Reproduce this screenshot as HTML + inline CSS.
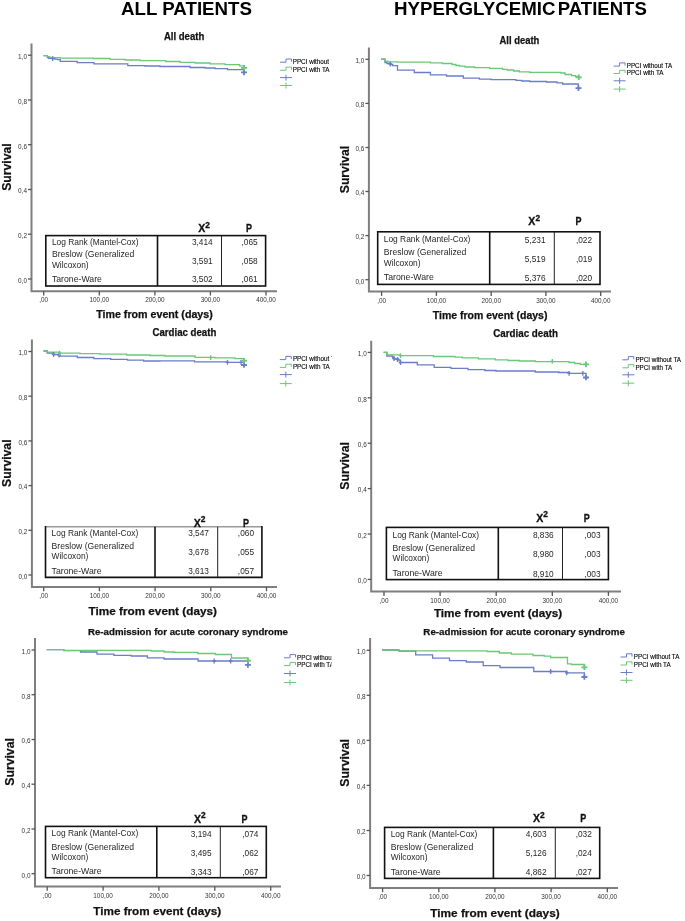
<!DOCTYPE html>
<html><head><meta charset="utf-8"><title>Kaplan-Meier survival curves</title>
<style>
html,body{margin:0;padding:0;background:#fff;}
body{width:685px;height:921px;overflow:hidden;position:relative;}
svg{position:absolute;left:0;top:0;filter:blur(0.35px);}
text{font-family:"Liberation Sans", sans-serif;}
</style></head><body>
<svg width="685" height="921" viewBox="0 0 685 921">
<defs>
<clipPath id="lc0"><rect x="0" y="0" width="331.0" height="921"/></clipPath>
<clipPath id="lc1"><rect x="0" y="0" width="331.9" height="921"/></clipPath>
<clipPath id="lc2"><rect x="0" y="0" width="331.5" height="921"/></clipPath>
<clipPath id="lc3"><rect x="0" y="0" width="685.0" height="921"/></clipPath>
<clipPath id="lc4"><rect x="0" y="0" width="685.0" height="921"/></clipPath>
<clipPath id="lc5"><rect x="0" y="0" width="685.0" height="921"/></clipPath>
</defs>
<text x="186.5" y="15" font-size="18" font-weight="bold" text-anchor="middle" fill="#000" textLength="131" lengthAdjust="spacingAndGlyphs">ALL PATIENTS</text>
<text x="394.0" y="15.3" font-size="18" font-weight="bold" fill="#000" textLength="161.5" lengthAdjust="spacingAndGlyphs">HYPERGLYCEMIC</text>
<text x="557.8" y="15.3" font-size="18" font-weight="bold" fill="#000" textLength="89" lengthAdjust="spacingAndGlyphs">PATIENTS</text>
<g>
<text x="184.1" y="40.2" font-size="10.0" font-weight="bold" text-anchor="middle" fill="#111" stroke="#111" stroke-width="0.25" textLength="40.4" lengthAdjust="spacingAndGlyphs">All death</text>
<path d="M31.5 43.5 V291.2 H277.0" stroke="#7f7f7f" stroke-width="2" fill="none"/>
<path d="M28.0 279.0 H31.5" stroke="#555" stroke-width="1.3"/>
<text x="27.0" y="282.8" font-size="6.4" text-anchor="end" fill="#333">0,0</text>
<path d="M28.0 234.2 H31.5" stroke="#555" stroke-width="1.3"/>
<text x="27.0" y="238.0" font-size="6.4" text-anchor="end" fill="#333">0,2</text>
<path d="M28.0 189.5 H31.5" stroke="#555" stroke-width="1.3"/>
<text x="27.0" y="193.3" font-size="6.4" text-anchor="end" fill="#333">0,4</text>
<path d="M28.0 144.7 H31.5" stroke="#555" stroke-width="1.3"/>
<text x="27.0" y="148.5" font-size="6.4" text-anchor="end" fill="#333">0,6</text>
<path d="M28.0 100.0 H31.5" stroke="#555" stroke-width="1.3"/>
<text x="27.0" y="103.8" font-size="6.4" text-anchor="end" fill="#333">0,8</text>
<path d="M28.0 55.2 H31.5" stroke="#555" stroke-width="1.3"/>
<text x="27.0" y="59.0" font-size="6.4" text-anchor="end" fill="#333">1,0</text>
<path d="M43.7 291.2 V295.5" stroke="#555" stroke-width="1.3"/>
<text x="43.7" y="302.2" font-size="6.4" text-anchor="middle" fill="#333">,00</text>
<path d="M99.3 291.2 V295.5" stroke="#555" stroke-width="1.3"/>
<text x="99.3" y="302.2" font-size="6.4" text-anchor="middle" fill="#333">100,00</text>
<path d="M154.9 291.2 V295.5" stroke="#555" stroke-width="1.3"/>
<text x="154.9" y="302.2" font-size="6.4" text-anchor="middle" fill="#333">200,00</text>
<path d="M210.4 291.2 V295.5" stroke="#555" stroke-width="1.3"/>
<text x="210.4" y="302.2" font-size="6.4" text-anchor="middle" fill="#333">300,00</text>
<path d="M266.0 291.2 V295.5" stroke="#555" stroke-width="1.3"/>
<text x="266.0" y="302.2" font-size="6.4" text-anchor="middle" fill="#333">400,00</text>
<text x="96.2" y="317.5" font-size="10.6" font-weight="bold" fill="#111" stroke="#111" stroke-width="0.25" textLength="116.6" lengthAdjust="spacingAndGlyphs">Time from event (days)</text>
<text transform="translate(11.2 167.1) rotate(-90)" x="0" y="0" font-size="12" font-weight="bold" text-anchor="middle" fill="#111" stroke="#111" stroke-width="0.2" textLength="47.5" lengthAdjust="spacingAndGlyphs">Survival</text>
<path d="M43.5 55.7 H47.4 V57.7 H48.8 V58.4 H54.9 V59.2 H57.5 V59.6 H60.3 V61.4 H77.2 V62.7 H93.9 V63.8 H127.8 V65.6 H145.0 V66.0 H160.0 V66.5 H190.0 V67.5 H205.0 V68.0 H215.0 V68.6 H227.5 V69.6 H244.0 V69.6 H244.0 V72.4" stroke="#6a7cca" stroke-width="1.3" fill="none"/>
<path d="M43.5 55.7 H47.4 V56.6 H49.6 V57.3 H53.1 V57.6 H60.1 V58.1 H93.4 V58.5 H110.0 V59.3 H125.0 V60.0 H140.0 V60.6 H165.7 V61.5 H180.0 V62.3 H195.0 V63.0 H210.0 V63.8 H225.0 V64.7 H239.6 V65.9 H244.0 V66.7 H244.0 V67.8" stroke="#6ac876" stroke-width="1.3" fill="none"/>
<path d="M50.9 58.6 H54.5 M52.7 56.2 V61.0" stroke="#6a7cca" stroke-width="1.30" fill="none"/>
<path d="M241.0 72.4 H247.0 M244.0 69.6 V75.2" stroke="#6a7cca" stroke-width="1.80" fill="none"/>
<path d="M241.0 67.8 H247.0 M244.0 65.0 V70.6" stroke="#6ac876" stroke-width="1.80" fill="none"/>
<path d="M280.0 62.2 H286.0 V59.0 H291.5 V61.7" stroke="#6a7cca" stroke-width="1" fill="none"/>
<text x="292.7" y="64.0" font-size="6.3" fill="#000" stroke="#000" stroke-width="0.12" clip-path="url(#lc0)">PPCI without TA</text>
<path d="M280.0 70.3 H286.0 V67.1 H291.5 V69.8" stroke="#6ac876" stroke-width="1" fill="none"/>
<text x="292.7" y="72.0" font-size="6.3" fill="#000" stroke="#000" stroke-width="0.12" clip-path="url(#lc0)">PPCI with TA</text>
<path d="M280.0 77.6 H292.0 M286.0 74.6 V80.6" stroke="#6a7cca" stroke-width="1" fill="none"/>
<path d="M280.0 85.5 H292.0 M286.0 82.5 V88.5" stroke="#6ac876" stroke-width="1" fill="none"/>
<rect x="45.8" y="235.6" width="219.8" height="50.4" fill="none" stroke="#111" stroke-width="1.6"/>
<path d="M157.5 235.6 V286.0" stroke="#111" stroke-width="1.6"/>
<path d="M221.5 235.6 V286.0" stroke="#222" stroke-width="1"/>
<text x="51.9" y="245.1" font-size="8.4" fill="#262626">Log Rank (Mantel-Cox)</text>
<text x="51.9" y="257.3" font-size="8.4" fill="#262626" textLength="82.5" lengthAdjust="spacingAndGlyphs">Breslow (Generalized</text>
<text x="51.9" y="267.9" font-size="8.4" fill="#262626">Wilcoxon)</text>
<text x="51.9" y="281.9" font-size="8.4" fill="#262626" textLength="50.0" lengthAdjust="spacingAndGlyphs">Tarone-Ware</text>
<text x="212.7" y="245.4" font-size="8.3" text-anchor="end" fill="#262626">3,414</text>
<text x="257.7" y="245.4" font-size="8.3" text-anchor="end" fill="#262626">,065</text>
<text x="212.7" y="264.3" font-size="8.3" text-anchor="end" fill="#262626">3,591</text>
<text x="257.7" y="264.3" font-size="8.3" text-anchor="end" fill="#262626">,058</text>
<text x="212.7" y="282.4" font-size="8.3" text-anchor="end" fill="#262626">3,502</text>
<text x="257.7" y="282.4" font-size="8.3" text-anchor="end" fill="#262626">,061</text>
<text x="204.0" y="231.8" font-size="10.6" font-weight="bold" text-anchor="middle" fill="#111" stroke="#111" stroke-width="0.3">X<tspan font-size="8.4" dy="-4.2">2</tspan></text>
<text x="249.0" y="231.8" font-size="10.6" font-weight="bold" text-anchor="middle" fill="#111" stroke="#111" stroke-width="0.3" textLength="6" lengthAdjust="spacingAndGlyphs">P</text>
</g>
<g>
<text x="184.4" y="335.9" font-size="10.0" font-weight="bold" text-anchor="middle" fill="#111" stroke="#111" stroke-width="0.25" textLength="63.8" lengthAdjust="spacingAndGlyphs">Cardiac death</text>
<path d="M31.9 339.4 V586.9 H277.0" stroke="#7f7f7f" stroke-width="2" fill="none"/>
<path d="M28.4 575.0 H31.9" stroke="#555" stroke-width="1.3"/>
<text x="27.4" y="578.8" font-size="6.4" text-anchor="end" fill="#333">0,0</text>
<path d="M28.4 530.3 H31.9" stroke="#555" stroke-width="1.3"/>
<text x="27.4" y="534.1" font-size="6.4" text-anchor="end" fill="#333">0,2</text>
<path d="M28.4 485.6 H31.9" stroke="#555" stroke-width="1.3"/>
<text x="27.4" y="489.4" font-size="6.4" text-anchor="end" fill="#333">0,4</text>
<path d="M28.4 440.9 H31.9" stroke="#555" stroke-width="1.3"/>
<text x="27.4" y="444.7" font-size="6.4" text-anchor="end" fill="#333">0,6</text>
<path d="M28.4 396.2 H31.9" stroke="#555" stroke-width="1.3"/>
<text x="27.4" y="400.0" font-size="6.4" text-anchor="end" fill="#333">0,8</text>
<path d="M28.4 351.5 H31.9" stroke="#555" stroke-width="1.3"/>
<text x="27.4" y="355.3" font-size="6.4" text-anchor="end" fill="#333">1,0</text>
<path d="M43.7 586.9 V591.2" stroke="#555" stroke-width="1.3"/>
<text x="43.7" y="597.9" font-size="6.4" text-anchor="middle" fill="#333">,00</text>
<path d="M99.4 586.9 V591.2" stroke="#555" stroke-width="1.3"/>
<text x="99.4" y="597.9" font-size="6.4" text-anchor="middle" fill="#333">100,00</text>
<path d="M155.1 586.9 V591.2" stroke="#555" stroke-width="1.3"/>
<text x="155.1" y="597.9" font-size="6.4" text-anchor="middle" fill="#333">200,00</text>
<path d="M210.8 586.9 V591.2" stroke="#555" stroke-width="1.3"/>
<text x="210.8" y="597.9" font-size="6.4" text-anchor="middle" fill="#333">300,00</text>
<path d="M266.5 586.9 V591.2" stroke="#555" stroke-width="1.3"/>
<text x="266.5" y="597.9" font-size="6.4" text-anchor="middle" fill="#333">400,00</text>
<text x="88.5" y="615.1" font-size="11.8" font-weight="bold" fill="#111" stroke="#111" stroke-width="0.25" textLength="128.4" lengthAdjust="spacingAndGlyphs">Time from event (days)</text>
<text transform="translate(10.8 463.2) rotate(-90)" x="0" y="0" font-size="12" font-weight="bold" text-anchor="middle" fill="#111" stroke="#111" stroke-width="0.2" textLength="47.5" lengthAdjust="spacingAndGlyphs">Survival</text>
<path d="M43.5 351.0 H47.2 V353.0 H53.6 V354.5 H59.6 V356.2 H77.3 V357.5 H93.8 V358.6 H110.7 V359.4 H127.5 V360.2 H143.6 V361.0 H160.0 V360.9 H194.6 V361.8 H227.5 V362.4 H244.0 V362.4 H244.0 V365.0" stroke="#6a7cca" stroke-width="1.3" fill="none"/>
<path d="M43.5 351.0 H47.2 V352.2 H59.6 V353.1 H80.0 V353.6 H100.0 V354.2 H126.7 V355.0 H150.0 V355.5 H165.0 V356.0 H195.0 V357.3 H215.0 V357.8 H235.0 V358.6 H244.0 V359.6 H244.0 V360.7" stroke="#6ac876" stroke-width="1.3" fill="none"/>
<path d="M51.8 354.5 H55.4 M53.6 352.1 V356.9" stroke="#6a7cca" stroke-width="1.30" fill="none"/>
<path d="M57.2 355.2 H60.8 M59.0 352.8 V357.6" stroke="#6a7cca" stroke-width="1.30" fill="none"/>
<path d="M225.7 362.4 H229.3 M227.5 360.0 V364.8" stroke="#6a7cca" stroke-width="1.30" fill="none"/>
<path d="M239.2 362.4 H242.8 M241.0 360.0 V364.8" stroke="#6a7cca" stroke-width="1.30" fill="none"/>
<path d="M241.0 365.0 H247.0 M244.0 362.2 V367.8" stroke="#6a7cca" stroke-width="1.80" fill="none"/>
<path d="M57.8 353.1 H61.4 M59.6 350.7 V355.5" stroke="#6ac876" stroke-width="1.30" fill="none"/>
<path d="M208.9 357.6 H212.5 M210.7 355.2 V360.0" stroke="#6ac876" stroke-width="1.30" fill="none"/>
<path d="M241.0 360.7 H247.0 M244.0 357.9 V363.5" stroke="#6ac876" stroke-width="1.80" fill="none"/>
<path d="M279.8 359.6 H285.8 V356.4 H291.3 V359.1" stroke="#6a7cca" stroke-width="1" fill="none"/>
<text x="292.9" y="361.3" font-size="6.3" fill="#000" stroke="#000" stroke-width="0.12" clip-path="url(#lc1)">PPCI without TA</text>
<path d="M279.8 367.4 H285.8 V364.2 H291.3 V366.9" stroke="#6ac876" stroke-width="1" fill="none"/>
<text x="292.9" y="369.1" font-size="6.3" fill="#000" stroke="#000" stroke-width="0.12" clip-path="url(#lc1)">PPCI with TA</text>
<path d="M279.8 374.6 H291.8 M285.8 371.6 V377.6" stroke="#6a7cca" stroke-width="1" fill="none"/>
<path d="M279.8 383.6 H291.8 M285.8 380.6 V386.6" stroke="#6ac876" stroke-width="1" fill="none"/>
<path d="M45.5 526.8 H261.9" stroke="#999" stroke-width="1.4"/>
<path d="M45.5 526.1 V577.4 H261.9 V526.1" fill="none" stroke="#111" stroke-width="1.6"/>
<path d="M155.0 526.8 V577.4" stroke="#111" stroke-width="1.6"/>
<path d="M217.7 526.8 V577.4" stroke="#222" stroke-width="1"/>
<text x="51.6" y="535.8" font-size="8.4" fill="#262626">Log Rank (Mantel-Cox)</text>
<text x="51.6" y="549.1" font-size="8.4" fill="#262626" textLength="82.5" lengthAdjust="spacingAndGlyphs">Breslow (Generalized</text>
<text x="51.6" y="559.4" font-size="8.4" fill="#262626">Wilcoxon)</text>
<text x="51.6" y="573.6" font-size="8.4" fill="#262626" textLength="50.0" lengthAdjust="spacingAndGlyphs">Tarone-Ware</text>
<text x="208.9" y="536.1" font-size="8.3" text-anchor="end" fill="#262626">3,547</text>
<text x="254.0" y="536.1" font-size="8.3" text-anchor="end" fill="#262626">,060</text>
<text x="208.9" y="555.1" font-size="8.3" text-anchor="end" fill="#262626">3,678</text>
<text x="254.0" y="555.1" font-size="8.3" text-anchor="end" fill="#262626">,055</text>
<text x="208.9" y="574.1" font-size="8.3" text-anchor="end" fill="#262626">3,613</text>
<text x="254.0" y="574.1" font-size="8.3" text-anchor="end" fill="#262626">,057</text>
<text x="199.5" y="526.5" font-size="10.6" font-weight="bold" text-anchor="middle" fill="#111" stroke="#111" stroke-width="0.3">X<tspan font-size="8.4" dy="-4.2">2</tspan></text>
<text x="246.0" y="526.5" font-size="10.6" font-weight="bold" text-anchor="middle" fill="#111" stroke="#111" stroke-width="0.3" textLength="6" lengthAdjust="spacingAndGlyphs">P</text>
</g>
<g>
<text x="188.0" y="634.8" font-size="9.6" font-weight="bold" text-anchor="middle" fill="#111" stroke="#111" stroke-width="0.25" textLength="200.0" lengthAdjust="spacingAndGlyphs">Re-admission for acute coronary syndrome</text>
<path d="M35.0 638.0 V886.5 H281.0" stroke="#7f7f7f" stroke-width="2" fill="none"/>
<path d="M31.5 873.7 H35.0" stroke="#555" stroke-width="1.3"/>
<text x="30.5" y="877.5" font-size="6.4" text-anchor="end" fill="#333">0,0</text>
<path d="M31.5 829.0 H35.0" stroke="#555" stroke-width="1.3"/>
<text x="30.5" y="832.8" font-size="6.4" text-anchor="end" fill="#333">0,2</text>
<path d="M31.5 784.2 H35.0" stroke="#555" stroke-width="1.3"/>
<text x="30.5" y="788.0" font-size="6.4" text-anchor="end" fill="#333">0,4</text>
<path d="M31.5 739.5 H35.0" stroke="#555" stroke-width="1.3"/>
<text x="30.5" y="743.3" font-size="6.4" text-anchor="end" fill="#333">0,6</text>
<path d="M31.5 694.7 H35.0" stroke="#555" stroke-width="1.3"/>
<text x="30.5" y="698.5" font-size="6.4" text-anchor="end" fill="#333">0,8</text>
<path d="M31.5 650.0 H35.0" stroke="#555" stroke-width="1.3"/>
<text x="30.5" y="653.8" font-size="6.4" text-anchor="end" fill="#333">1,0</text>
<path d="M47.2 886.5 V890.8" stroke="#555" stroke-width="1.3"/>
<text x="47.2" y="897.5" font-size="6.4" text-anchor="middle" fill="#333">,00</text>
<path d="M103.1 886.5 V890.8" stroke="#555" stroke-width="1.3"/>
<text x="103.1" y="897.5" font-size="6.4" text-anchor="middle" fill="#333">100,00</text>
<path d="M158.9 886.5 V890.8" stroke="#555" stroke-width="1.3"/>
<text x="158.9" y="897.5" font-size="6.4" text-anchor="middle" fill="#333">200,00</text>
<path d="M214.8 886.5 V890.8" stroke="#555" stroke-width="1.3"/>
<text x="214.8" y="897.5" font-size="6.4" text-anchor="middle" fill="#333">300,00</text>
<path d="M270.7 886.5 V890.8" stroke="#555" stroke-width="1.3"/>
<text x="270.7" y="897.5" font-size="6.4" text-anchor="middle" fill="#333">400,00</text>
<text x="93.3" y="915.1" font-size="11.8" font-weight="bold" fill="#111" stroke="#111" stroke-width="0.25" textLength="127.9" lengthAdjust="spacingAndGlyphs">Time from event (days)</text>
<text transform="translate(13.8 761.9) rotate(-90)" x="0" y="0" font-size="12" font-weight="bold" text-anchor="middle" fill="#111" stroke="#111" stroke-width="0.2" textLength="47.5" lengthAdjust="spacingAndGlyphs">Survival</text>
<path d="M46.7 649.6 H63.8 V650.7 H80.5 V652.0 H97.0 V654.1 H113.9 V655.3 H131.2 V656.0 H147.4 V657.8 H164.1 V659.0 H198.1 V661.0 H247.9 V661.0 H247.9 V664.9" stroke="#6a7cca" stroke-width="1.3" fill="none"/>
<path d="M46.7 649.6 H63.8 V650.4 H151.2 V651.0 H164.1 V652.0 H174.5 V652.3 H197.8 V653.5 H215.5 V654.5 H231.5 V658.0 H247.9 V658.0 H247.9 V660.6" stroke="#6ac876" stroke-width="1.3" fill="none"/>
<path d="M212.4 661.0 H216.0 M214.2 658.6 V663.4" stroke="#6a7cca" stroke-width="1.30" fill="none"/>
<path d="M228.9 661.0 H232.5 M230.7 658.6 V663.4" stroke="#6a7cca" stroke-width="1.30" fill="none"/>
<path d="M244.9 664.9 H250.9 M247.9 662.1 V667.7" stroke="#6a7cca" stroke-width="1.80" fill="none"/>
<path d="M244.9 660.6 H250.9 M247.9 657.8 V663.4" stroke="#6ac876" stroke-width="1.80" fill="none"/>
<path d="M284.0 657.8 H290.0 V654.6 H295.5 V657.3" stroke="#6a7cca" stroke-width="1" fill="none"/>
<text x="297.0" y="659.6" font-size="6.3" fill="#000" stroke="#000" stroke-width="0.12" clip-path="url(#lc2)">PPCI without TA</text>
<path d="M284.0 665.6 H290.0 V662.4 H295.5 V665.1" stroke="#6ac876" stroke-width="1" fill="none"/>
<text x="297.0" y="667.4" font-size="6.3" fill="#000" stroke="#000" stroke-width="0.12" clip-path="url(#lc2)">PPCI with TA</text>
<path d="M284.0 673.5 H296.0 M290.0 670.5 V676.5" stroke="#6a7cca" stroke-width="1" fill="none"/>
<path d="M284.0 682.5 H296.0 M290.0 679.5 V685.5" stroke="#6ac876" stroke-width="1" fill="none"/>
<rect x="45.5" y="826.4" width="220.8" height="51.3" fill="none" stroke="#111" stroke-width="1.6"/>
<path d="M156.8 826.4 V877.7" stroke="#111" stroke-width="1.6"/>
<path d="M220.3 826.4 V877.7" stroke="#222" stroke-width="1"/>
<text x="51.6" y="836.3" font-size="8.4" fill="#262626">Log Rank (Mantel-Cox)</text>
<text x="51.6" y="849.6" font-size="8.4" fill="#262626" textLength="82.5" lengthAdjust="spacingAndGlyphs">Breslow (Generalized</text>
<text x="51.6" y="860.1" font-size="8.4" fill="#262626">Wilcoxon)</text>
<text x="51.6" y="874.1" font-size="8.4" fill="#262626" textLength="50.0" lengthAdjust="spacingAndGlyphs">Tarone-Ware</text>
<text x="211.5" y="836.6" font-size="8.3" text-anchor="end" fill="#262626">3,194</text>
<text x="258.4" y="836.6" font-size="8.3" text-anchor="end" fill="#262626">,074</text>
<text x="211.5" y="855.6" font-size="8.3" text-anchor="end" fill="#262626">3,495</text>
<text x="258.4" y="855.6" font-size="8.3" text-anchor="end" fill="#262626">,062</text>
<text x="211.5" y="874.6" font-size="8.3" text-anchor="end" fill="#262626">3,343</text>
<text x="258.4" y="874.6" font-size="8.3" text-anchor="end" fill="#262626">,067</text>
<text x="199.8" y="822.6" font-size="10.6" font-weight="bold" text-anchor="middle" fill="#111" stroke="#111" stroke-width="0.3">X<tspan font-size="8.4" dy="-4.2">2</tspan></text>
<text x="244.6" y="822.6" font-size="10.6" font-weight="bold" text-anchor="middle" fill="#111" stroke="#111" stroke-width="0.3" textLength="6" lengthAdjust="spacingAndGlyphs">P</text>
</g>
<g>
<text x="519.4" y="43.8" font-size="10.0" font-weight="bold" text-anchor="middle" fill="#111" stroke="#111" stroke-width="0.25" textLength="39.9" lengthAdjust="spacingAndGlyphs">All death</text>
<path d="M368.9 47.5 V291.6 H611.0" stroke="#7f7f7f" stroke-width="2" fill="none"/>
<path d="M365.4 279.7 H368.9" stroke="#555" stroke-width="1.3"/>
<text x="364.4" y="283.5" font-size="6.4" text-anchor="end" fill="#333">0,0</text>
<path d="M365.4 235.6 H368.9" stroke="#555" stroke-width="1.3"/>
<text x="364.4" y="239.4" font-size="6.4" text-anchor="end" fill="#333">0,2</text>
<path d="M365.4 191.5 H368.9" stroke="#555" stroke-width="1.3"/>
<text x="364.4" y="195.3" font-size="6.4" text-anchor="end" fill="#333">0,4</text>
<path d="M365.4 147.5 H368.9" stroke="#555" stroke-width="1.3"/>
<text x="364.4" y="151.3" font-size="6.4" text-anchor="end" fill="#333">0,6</text>
<path d="M365.4 103.4 H368.9" stroke="#555" stroke-width="1.3"/>
<text x="364.4" y="107.2" font-size="6.4" text-anchor="end" fill="#333">0,8</text>
<path d="M365.4 59.3 H368.9" stroke="#555" stroke-width="1.3"/>
<text x="364.4" y="63.1" font-size="6.4" text-anchor="end" fill="#333">1,0</text>
<path d="M381.6 291.6 V295.9" stroke="#555" stroke-width="1.3"/>
<text x="381.6" y="302.6" font-size="6.4" text-anchor="middle" fill="#333">,00</text>
<path d="M436.4 291.6 V295.9" stroke="#555" stroke-width="1.3"/>
<text x="436.4" y="302.6" font-size="6.4" text-anchor="middle" fill="#333">100,00</text>
<path d="M491.2 291.6 V295.9" stroke="#555" stroke-width="1.3"/>
<text x="491.2" y="302.6" font-size="6.4" text-anchor="middle" fill="#333">200,00</text>
<path d="M545.9 291.6 V295.9" stroke="#555" stroke-width="1.3"/>
<text x="545.9" y="302.6" font-size="6.4" text-anchor="middle" fill="#333">300,00</text>
<path d="M600.7 291.6 V295.9" stroke="#555" stroke-width="1.3"/>
<text x="600.7" y="302.6" font-size="6.4" text-anchor="middle" fill="#333">400,00</text>
<text x="432.8" y="319.3" font-size="10.6" font-weight="bold" fill="#111" stroke="#111" stroke-width="0.25" textLength="114.6" lengthAdjust="spacingAndGlyphs">Time from event (days)</text>
<text transform="translate(348.5 169.5) rotate(-90)" x="0" y="0" font-size="12" font-weight="bold" text-anchor="middle" fill="#111" stroke="#111" stroke-width="0.2" textLength="47.5" lengthAdjust="spacingAndGlyphs">Survival</text>
<path d="M381.1 59.2 H385.0 V62.5 H387.0 V63.5 H390.3 V64.5 H392.7 V65.7 H397.5 V70.1 H414.3 V72.5 H430.4 V74.9 H446.5 V76.0 H463.3 V78.1 H479.4 V79.2 H491.2 V79.6 H516.0 V80.3 H521.8 V81.0 H529.8 V81.5 H546.6 V82.0 H557.0 V82.8 H562.7 V84.0 H578.3 V88.0" stroke="#6a7cca" stroke-width="1.3" fill="none"/>
<path d="M381.1 59.2 H385.0 V61.2 H387.8 V61.8 H397.5 V62.1 H430.4 V62.8 H442.4 V63.5 H452.0 V64.5 H456.0 V65.5 H459.3 V66.1 H465.0 V67.0 H474.6 V67.7 H489.6 V68.3 H502.5 V69.3 H507.3 V70.0 H513.7 V71.0 H519.3 V71.8 H529.8 V72.4 H561.0 V73.0 H565.0 V74.5 H571.5 V75.6 H575.5 V76.5 H578.8 V77.0" stroke="#6ac876" stroke-width="1.3" fill="none"/>
<path d="M388.5 64.0 H392.1 M390.3 61.6 V66.4" stroke="#6a7cca" stroke-width="1.30" fill="none"/>
<path d="M575.5 88.2 H581.5 M578.5 85.4 V91.0" stroke="#6a7cca" stroke-width="1.80" fill="none"/>
<path d="M575.8 77.3 H581.8 M578.8 74.5 V80.1" stroke="#6ac876" stroke-width="1.80" fill="none"/>
<path d="M613.6 66.1 H619.6 V62.9 H625.1 V65.6" stroke="#6a7cca" stroke-width="1" fill="none"/>
<text x="626.7" y="67.9" font-size="6.3" fill="#000" stroke="#000" stroke-width="0.12" clip-path="url(#lc3)">PPCI without TA</text>
<path d="M613.6 73.5 H619.6 V70.3 H625.1 V73.0" stroke="#6ac876" stroke-width="1" fill="none"/>
<text x="626.7" y="75.2" font-size="6.3" fill="#000" stroke="#000" stroke-width="0.12" clip-path="url(#lc3)">PPCI with TA</text>
<path d="M613.6 80.8 H625.6 M619.6 77.8 V83.8" stroke="#6a7cca" stroke-width="1" fill="none"/>
<path d="M613.6 89.1 H625.6 M619.6 86.1 V92.1" stroke="#6ac876" stroke-width="1" fill="none"/>
<rect x="377.7" y="231.8" width="222.3" height="52.6" fill="none" stroke="#111" stroke-width="1.6"/>
<path d="M489.7 231.8 V284.4" stroke="#111" stroke-width="1.6"/>
<path d="M554.3 231.8 V284.4" stroke="#222" stroke-width="1"/>
<text x="383.8" y="242.3" font-size="8.4" fill="#262626">Log Rank (Mantel-Cox)</text>
<text x="383.8" y="255.3" font-size="8.4" fill="#262626" textLength="82.5" lengthAdjust="spacingAndGlyphs">Breslow (Generalized</text>
<text x="383.8" y="265.8" font-size="8.4" fill="#262626">Wilcoxon)</text>
<text x="383.8" y="280.3" font-size="8.4" fill="#262626" textLength="50.0" lengthAdjust="spacingAndGlyphs">Tarone-Ware</text>
<text x="545.5" y="242.6" font-size="8.3" text-anchor="end" fill="#262626">5,231</text>
<text x="592.1" y="242.6" font-size="8.3" text-anchor="end" fill="#262626">,022</text>
<text x="545.5" y="261.5" font-size="8.3" text-anchor="end" fill="#262626">5,519</text>
<text x="592.1" y="261.5" font-size="8.3" text-anchor="end" fill="#262626">,019</text>
<text x="545.5" y="280.8" font-size="8.3" text-anchor="end" fill="#262626">5,376</text>
<text x="592.1" y="280.8" font-size="8.3" text-anchor="end" fill="#262626">,020</text>
<text x="534.2" y="225.0" font-size="10.6" font-weight="bold" text-anchor="middle" fill="#111" stroke="#111" stroke-width="0.3">X<tspan font-size="8.4" dy="-4.2">2</tspan></text>
<text x="578.6" y="225.0" font-size="10.6" font-weight="bold" text-anchor="middle" fill="#111" stroke="#111" stroke-width="0.3" textLength="6" lengthAdjust="spacingAndGlyphs">P</text>
</g>
<g>
<text x="525.6" y="337.2" font-size="10.0" font-weight="bold" text-anchor="middle" fill="#111" stroke="#111" stroke-width="0.25" textLength="64.7" lengthAdjust="spacingAndGlyphs">Cardiac death</text>
<path d="M371.2 340.7 V591.6 H621.0" stroke="#7f7f7f" stroke-width="2" fill="none"/>
<path d="M367.7 579.4 H371.2" stroke="#555" stroke-width="1.3"/>
<text x="366.7" y="583.2" font-size="6.4" text-anchor="end" fill="#333">0,0</text>
<path d="M367.7 534.0 H371.2" stroke="#555" stroke-width="1.3"/>
<text x="366.7" y="537.8" font-size="6.4" text-anchor="end" fill="#333">0,2</text>
<path d="M367.7 488.6 H371.2" stroke="#555" stroke-width="1.3"/>
<text x="366.7" y="492.4" font-size="6.4" text-anchor="end" fill="#333">0,4</text>
<path d="M367.7 443.2 H371.2" stroke="#555" stroke-width="1.3"/>
<text x="366.7" y="447.0" font-size="6.4" text-anchor="end" fill="#333">0,6</text>
<path d="M367.7 397.8 H371.2" stroke="#555" stroke-width="1.3"/>
<text x="366.7" y="401.6" font-size="6.4" text-anchor="end" fill="#333">0,8</text>
<path d="M367.7 352.4 H371.2" stroke="#555" stroke-width="1.3"/>
<text x="366.7" y="356.2" font-size="6.4" text-anchor="end" fill="#333">1,0</text>
<path d="M384.0 591.6 V595.9" stroke="#555" stroke-width="1.3"/>
<text x="384.0" y="602.6" font-size="6.4" text-anchor="middle" fill="#333">,00</text>
<path d="M440.1 591.6 V595.9" stroke="#555" stroke-width="1.3"/>
<text x="440.1" y="602.6" font-size="6.4" text-anchor="middle" fill="#333">100,00</text>
<path d="M496.2 591.6 V595.9" stroke="#555" stroke-width="1.3"/>
<text x="496.2" y="602.6" font-size="6.4" text-anchor="middle" fill="#333">200,00</text>
<path d="M552.3 591.6 V595.9" stroke="#555" stroke-width="1.3"/>
<text x="552.3" y="602.6" font-size="6.4" text-anchor="middle" fill="#333">300,00</text>
<path d="M608.4 591.6 V595.9" stroke="#555" stroke-width="1.3"/>
<text x="608.4" y="602.6" font-size="6.4" text-anchor="middle" fill="#333">400,00</text>
<text x="433.9" y="616.6" font-size="11.8" font-weight="bold" fill="#111" stroke="#111" stroke-width="0.25" textLength="128.4" lengthAdjust="spacingAndGlyphs">Time from event (days)</text>
<text transform="translate(348.8 465.9) rotate(-90)" x="0" y="0" font-size="12" font-weight="bold" text-anchor="middle" fill="#111" stroke="#111" stroke-width="0.2" textLength="47.5" lengthAdjust="spacingAndGlyphs">Survival</text>
<path d="M383.6 352.4 H386.8 V356.0 H392.5 V357.5 H394.0 V359.0 H398.5 V360.0 H400.2 V362.5 H417.3 V364.9 H434.2 V367.3 H451.0 V368.3 H468.0 V369.7 H484.8 V370.5 H496.0 V371.0 H535.4 V372.0 H558.7 V372.5 H569.1 V373.4 H586.0 V373.4 H586.0 V377.5" stroke="#6a7cca" stroke-width="1.3" fill="none"/>
<path d="M383.6 352.4 H386.8 V354.8 H400.5 V355.7 H433.4 V356.5 H455.0 V357.2 H462.3 V357.8 H478.4 V358.8 H495.3 V359.8 H508.0 V360.5 H519.3 V361.0 H535.4 V361.6 H569.0 V362.5 H574.7 V363.5 H580.4 V364.4 H586.0 V364.4" stroke="#6ac876" stroke-width="1.3" fill="none"/>
<path d="M392.2 358.5 H395.8 M394.0 356.1 V360.9" stroke="#6a7cca" stroke-width="1.30" fill="none"/>
<path d="M395.7 359.5 H399.3 M397.5 357.1 V361.9" stroke="#6a7cca" stroke-width="1.30" fill="none"/>
<path d="M398.7 362.5 H402.3 M400.5 360.1 V364.9" stroke="#6a7cca" stroke-width="1.30" fill="none"/>
<path d="M567.3 373.4 H570.9 M569.1 371.0 V375.8" stroke="#6a7cca" stroke-width="1.30" fill="none"/>
<path d="M581.0 373.4 H584.6 M582.8 371.0 V375.8" stroke="#6a7cca" stroke-width="1.30" fill="none"/>
<path d="M583.0 377.5 H589.0 M586.0 374.7 V380.3" stroke="#6a7cca" stroke-width="1.80" fill="none"/>
<path d="M398.7 355.6 H402.3 M400.5 353.2 V358.0" stroke="#6ac876" stroke-width="1.30" fill="none"/>
<path d="M550.5 361.4 H554.1 M552.3 359.0 V363.8" stroke="#6ac876" stroke-width="1.30" fill="none"/>
<path d="M583.0 364.4 H589.0 M586.0 361.6 V367.2" stroke="#6ac876" stroke-width="1.80" fill="none"/>
<path d="M622.3 359.8 H628.3 V356.6 H633.8 V359.3" stroke="#6a7cca" stroke-width="1" fill="none"/>
<text x="635.4" y="361.6" font-size="6.3" fill="#000" stroke="#000" stroke-width="0.12" clip-path="url(#lc4)">PPCI without TA</text>
<path d="M622.3 367.8 H628.3 V364.6 H633.8 V367.3" stroke="#6ac876" stroke-width="1" fill="none"/>
<text x="635.4" y="369.6" font-size="6.3" fill="#000" stroke="#000" stroke-width="0.12" clip-path="url(#lc4)">PPCI with TA</text>
<path d="M622.3 374.8 H634.3 M628.3 371.8 V377.8" stroke="#6a7cca" stroke-width="1" fill="none"/>
<path d="M622.3 383.2 H634.3 M628.3 380.2 V386.2" stroke="#6ac876" stroke-width="1" fill="none"/>
<rect x="386.4" y="527.4" width="222.0" height="52.2" fill="none" stroke="#111" stroke-width="1.6"/>
<path d="M498.3 527.4 V579.6" stroke="#111" stroke-width="1.6"/>
<path d="M562.5 527.4 V579.6" stroke="#222" stroke-width="1"/>
<text x="392.5" y="537.8" font-size="8.4" fill="#262626">Log Rank (Mantel-Cox)</text>
<text x="392.5" y="550.9" font-size="8.4" fill="#262626" textLength="82.5" lengthAdjust="spacingAndGlyphs">Breslow (Generalized</text>
<text x="392.5" y="561.4" font-size="8.4" fill="#262626">Wilcoxon)</text>
<text x="392.5" y="576.3" font-size="8.4" fill="#262626" textLength="50.0" lengthAdjust="spacingAndGlyphs">Tarone-Ware</text>
<text x="553.7" y="538.1" font-size="8.3" text-anchor="end" fill="#262626">8,836</text>
<text x="600.5" y="538.1" font-size="8.3" text-anchor="end" fill="#262626">,003</text>
<text x="553.7" y="557.3" font-size="8.3" text-anchor="end" fill="#262626">8,980</text>
<text x="600.5" y="557.3" font-size="8.3" text-anchor="end" fill="#262626">,003</text>
<text x="553.7" y="576.8" font-size="8.3" text-anchor="end" fill="#262626">8,910</text>
<text x="600.5" y="576.8" font-size="8.3" text-anchor="end" fill="#262626">,003</text>
<text x="542.0" y="521.6" font-size="10.6" font-weight="bold" text-anchor="middle" fill="#111" stroke="#111" stroke-width="0.3">X<tspan font-size="8.4" dy="-4.2">2</tspan></text>
<text x="586.8" y="521.6" font-size="10.6" font-weight="bold" text-anchor="middle" fill="#111" stroke="#111" stroke-width="0.3" textLength="6" lengthAdjust="spacingAndGlyphs">P</text>
</g>
<g>
<text x="524.1" y="634.6" font-size="9.6" font-weight="bold" text-anchor="middle" fill="#111" stroke="#111" stroke-width="0.25" textLength="201.5" lengthAdjust="spacingAndGlyphs">Re-admission for acute coronary syndrome</text>
<path d="M370.1 638.0 V887.9 H618.0" stroke="#7f7f7f" stroke-width="2" fill="none"/>
<path d="M366.6 875.5 H370.1" stroke="#555" stroke-width="1.3"/>
<text x="365.6" y="879.3" font-size="6.4" text-anchor="end" fill="#333">0,0</text>
<path d="M366.6 830.5 H370.1" stroke="#555" stroke-width="1.3"/>
<text x="365.6" y="834.3" font-size="6.4" text-anchor="end" fill="#333">0,2</text>
<path d="M366.6 785.4 H370.1" stroke="#555" stroke-width="1.3"/>
<text x="365.6" y="789.2" font-size="6.4" text-anchor="end" fill="#333">0,4</text>
<path d="M366.6 740.4 H370.1" stroke="#555" stroke-width="1.3"/>
<text x="365.6" y="744.2" font-size="6.4" text-anchor="end" fill="#333">0,6</text>
<path d="M366.6 695.3 H370.1" stroke="#555" stroke-width="1.3"/>
<text x="365.6" y="699.1" font-size="6.4" text-anchor="end" fill="#333">0,8</text>
<path d="M366.6 650.3 H370.1" stroke="#555" stroke-width="1.3"/>
<text x="365.6" y="654.1" font-size="6.4" text-anchor="end" fill="#333">1,0</text>
<path d="M382.6 887.9 V892.2" stroke="#555" stroke-width="1.3"/>
<text x="382.6" y="898.9" font-size="6.4" text-anchor="middle" fill="#333">,00</text>
<path d="M438.8 887.9 V892.2" stroke="#555" stroke-width="1.3"/>
<text x="438.8" y="898.9" font-size="6.4" text-anchor="middle" fill="#333">100,00</text>
<path d="M494.9 887.9 V892.2" stroke="#555" stroke-width="1.3"/>
<text x="494.9" y="898.9" font-size="6.4" text-anchor="middle" fill="#333">200,00</text>
<path d="M551.1 887.9 V892.2" stroke="#555" stroke-width="1.3"/>
<text x="551.1" y="898.9" font-size="6.4" text-anchor="middle" fill="#333">300,00</text>
<path d="M607.3 887.9 V892.2" stroke="#555" stroke-width="1.3"/>
<text x="607.3" y="898.9" font-size="6.4" text-anchor="middle" fill="#333">400,00</text>
<text x="430.2" y="916.8" font-size="11.8" font-weight="bold" fill="#111" stroke="#111" stroke-width="0.25" textLength="129.5" lengthAdjust="spacingAndGlyphs">Time from event (days)</text>
<text transform="translate(348.5 762.9) rotate(-90)" x="0" y="0" font-size="12" font-weight="bold" text-anchor="middle" fill="#111" stroke="#111" stroke-width="0.2" textLength="47.5" lengthAdjust="spacingAndGlyphs">Survival</text>
<path d="M382.0 650.0 H398.9 V651.2 H415.7 V654.8 H432.6 V658.1 H449.5 V660.6 H466.3 V662.0 H483.2 V665.7 H500.0 V667.5 H533.8 V671.5 H566.7 V672.8 H584.4 V672.8 H584.4 V677.0" stroke="#6a7cca" stroke-width="1.3" fill="none"/>
<path d="M382.0 650.0 H398.9 V650.8 H487.2 V651.5 H499.3 V653.0 H511.3 V654.1 H533.0 V655.5 H544.2 V656.2 H550.7 V657.5 H567.5 V663.8 H571.5 V664.5 H584.4 V664.5 H584.4 V667.3" stroke="#6ac876" stroke-width="1.3" fill="none"/>
<path d="M548.9 671.5 H552.5 M550.7 669.1 V673.9" stroke="#6a7cca" stroke-width="1.30" fill="none"/>
<path d="M564.9 672.8 H568.5 M566.7 670.4 V675.2" stroke="#6a7cca" stroke-width="1.30" fill="none"/>
<path d="M581.4 677.0 H587.4 M584.4 674.2 V679.8" stroke="#6a7cca" stroke-width="1.80" fill="none"/>
<path d="M581.4 667.3 H587.4 M584.4 664.5 V670.1" stroke="#6ac876" stroke-width="1.80" fill="none"/>
<path d="M620.5 657.0 H626.5 V653.8 H632.0 V656.5" stroke="#6a7cca" stroke-width="1" fill="none"/>
<text x="633.8" y="658.8" font-size="6.3" fill="#000" stroke="#000" stroke-width="0.12" clip-path="url(#lc5)">PPCI without TA</text>
<path d="M620.5 665.0 H626.5 V661.8 H632.0 V664.5" stroke="#6ac876" stroke-width="1" fill="none"/>
<text x="633.8" y="666.8" font-size="6.3" fill="#000" stroke="#000" stroke-width="0.12" clip-path="url(#lc5)">PPCI with TA</text>
<path d="M620.5 672.5 H632.5 M626.5 669.5 V675.5" stroke="#6a7cca" stroke-width="1" fill="none"/>
<path d="M620.5 680.3 H632.5 M626.5 677.3 V683.3" stroke="#6ac876" stroke-width="1" fill="none"/>
<rect x="384.6" y="827.4" width="215.1" height="51.0" fill="none" stroke="#111" stroke-width="1.6"/>
<path d="M493.4 827.4 V878.4" stroke="#111" stroke-width="1.6"/>
<path d="M555.3 827.4 V878.4" stroke="#222" stroke-width="1"/>
<text x="390.7" y="837.0" font-size="8.4" fill="#262626">Log Rank (Mantel-Cox)</text>
<text x="390.7" y="850.0" font-size="8.4" fill="#262626" textLength="82.5" lengthAdjust="spacingAndGlyphs">Breslow (Generalized</text>
<text x="390.7" y="860.1" font-size="8.4" fill="#262626">Wilcoxon)</text>
<text x="390.7" y="874.5" font-size="8.4" fill="#262626" textLength="50.0" lengthAdjust="spacingAndGlyphs">Tarone-Ware</text>
<text x="546.5" y="837.3" font-size="8.3" text-anchor="end" fill="#262626">4,603</text>
<text x="591.8" y="837.3" font-size="8.3" text-anchor="end" fill="#262626">,032</text>
<text x="546.5" y="856.2" font-size="8.3" text-anchor="end" fill="#262626">5,126</text>
<text x="591.8" y="856.2" font-size="8.3" text-anchor="end" fill="#262626">,024</text>
<text x="546.5" y="875.0" font-size="8.3" text-anchor="end" fill="#262626">4,862</text>
<text x="591.8" y="875.0" font-size="8.3" text-anchor="end" fill="#262626">,027</text>
<text x="538.8" y="822.2" font-size="10.6" font-weight="bold" text-anchor="middle" fill="#111" stroke="#111" stroke-width="0.3">X<tspan font-size="8.4" dy="-4.2">2</tspan></text>
<text x="583.2" y="822.2" font-size="10.6" font-weight="bold" text-anchor="middle" fill="#111" stroke="#111" stroke-width="0.3" textLength="6" lengthAdjust="spacingAndGlyphs">P</text>
</g>
</svg>
</body></html>
